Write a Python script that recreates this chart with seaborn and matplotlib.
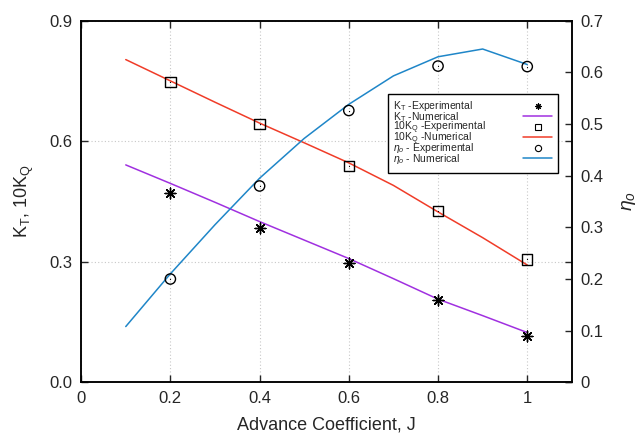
import numpy as np
import pandas as pd
import seaborn as sns
import matplotlib.pyplot as plt
from matplotlib.lines import Line2D
from matplotlib.transforms import Bbox

# experimental points
j_exp = [0.2, 0.4, 0.6, 0.8, 1.0]
kt_exp = [0.472, 0.383, 0.296, 0.205, 0.116]
kq10_exp = [0.748, 0.642, 0.539, 0.426, 0.306]
eta_exp = [0.200, 0.380, 0.526, 0.612, 0.611]

# numerical curves
j_num = [0.1, 0.2, 0.3, 0.4, 0.5, 0.6, 0.7, 0.8, 0.9, 1.0]
kt_num = [0.541, 0.495, 0.448, 0.400, 0.354, 0.308, 0.258, 0.207, 0.166, 0.124]
kq10_num = [0.803, 0.750, 0.697, 0.645, 0.596, 0.546, 0.490, 0.424, 0.360, 0.292]
eta_num = [0.108, 0.210, 0.305, 0.395, 0.472, 0.538, 0.593, 0.630, 0.645, 0.615]

x_ticks = [0, 0.2, 0.4, 0.6, 0.8, 1.0]
x_labels = ['0', '0.2', '0.4', '0.6', '0.8', '1']
y_ticks = [0.0, 0.3, 0.6, 0.9]
y2_ticks = [0, 0.1, 0.2, 0.3, 0.4, 0.5, 0.6, 0.7]
y2_labels = ['0', '0.1', '0.2', '0.3', '0.4', '0.5', '0.6', '0.7']

c_kt = '#a030e0'
c_kq = '#f03c28'
c_eta = '#1f86c8'

sns.set_style('ticks')
plt.rcParams['font.family'] = ['Liberation Sans', 'DejaVu Sans']
plt.rcParams['mathtext.fontset'] = 'custom'
plt.rcParams['mathtext.rm'] = 'Liberation Sans'
plt.rcParams['mathtext.it'] = 'Liberation Sans:italic'

exp_df = pd.DataFrame({'J': j_exp, 'KT': kt_exp, 'KQ': kq10_exp, 'eta': eta_exp})
num_df = pd.DataFrame({'J': j_num, 'KT': kt_num, 'KQ': kq10_num, 'eta': eta_num})

fig = plt.figure(figsize=(6.44, 4.38), dpi=100)
ax = fig.add_axes([0.126, 0.127, 0.762, 0.826])
ax2 = ax.twinx()

# numerical lines
sns.lineplot(data=num_df, x='J', y='KT', ax=ax, color=c_kt, lw=1.1)
sns.lineplot(data=num_df, x='J', y='KQ', ax=ax, color=c_kq, lw=1.1)
sns.lineplot(data=num_df, x='J', y='eta', ax=ax2, color=c_eta, lw=1.1)

# experimental markers
ast = (8, 2, 0)
sns.scatterplot(data=exp_df, x='J', y='KT', ax=ax, marker=ast, s=60,
                color='black', linewidth=1.0, zorder=5)
sns.scatterplot(data=exp_df, x='J', y='KQ', ax=ax, marker='s', s=55,
                facecolor='none', edgecolor='black', linewidth=1.0, zorder=5)
sns.scatterplot(data=exp_df, x='J', y='KQ', ax=ax, marker='.', s=3,
                color='black', linewidth=0, zorder=6)
sns.scatterplot(data=exp_df, x='J', y='eta', ax=ax2, marker='o', s=55,
                facecolor='none', edgecolor='black', linewidth=1.0, zorder=5)
sns.scatterplot(data=exp_df, x='J', y='eta', ax=ax2, marker='.', s=3,
                color='black', linewidth=0, zorder=6)

ax.set_xlim(0, 1.1)
ax.set_ylim(0, 0.9)
ax2.set_ylim(0, 0.7)

ax.set_xticks(x_ticks)
ax.set_xticklabels(x_labels)
ax.set_yticks(y_ticks)
ax.set_yticklabels(['0.0', '0.3', '0.6', '0.9'])
ax2.set_yticks(y2_ticks)
ax2.set_yticklabels(y2_labels)

ax.grid(True, color='#c8c8c8', linestyle=(0, (1, 2)), linewidth=0.8)
ax.tick_params(direction='in', top=True, right=True, length=5, width=1,
               labelsize=12, pad=6)
ax2.tick_params(direction='in', length=5, width=1, labelsize=12, pad=6)
for a in (ax, ax2):
    for s in a.spines.values():
        s.set_linewidth(1.1)
        s.set_color('black')

ax.set_xlabel('Advance Coefficient, J', fontsize=13, labelpad=8)
ax.set_ylabel(r'$\mathregular{K_T}$, $\mathregular{10K_Q}$', fontsize=13, labelpad=10)
ax2.set_ylabel(r'$\eta_o$', fontsize=14, labelpad=12)

handles = [
    Line2D([], [], ls='none', marker=ast, color='black', ms=4.5, mew=0.8),
    Line2D([], [], color=c_kt, lw=1.1),
    Line2D([], [], ls='none', marker='s', mfc='none', mec='black', ms=4.5, mew=0.8),
    Line2D([], [], color=c_kq, lw=1.1),
    Line2D([], [], ls='none', marker='o', mfc='none', mec='black', ms=4.5, mew=0.8),
    Line2D([], [], color=c_eta, lw=1.1),
]
labels = [r'$\mathregular{K_T}$ -Experimental', r'$\mathregular{K_T}$ -Numerical',
          r'$\mathregular{10K_Q}$ -Experimental', r'$\mathregular{10K_Q}$ -Numerical',
          r'$\eta_o$ - Experimental', r'$\eta_o$ - Numerical']
leg = ax2.legend(handles, labels, loc='upper right', bbox_to_anchor=(0.971, 0.798),
                 borderaxespad=0, markerfirst=False, fontsize=7.5, frameon=True,
                 fancybox=False, edgecolor='black', framealpha=1,
                 handlelength=2.8, handleheight=0.6, labelspacing=0,
                 borderpad=0.5, handletextpad=3.6)
leg.get_frame().set_linewidth(1.0)
leg.set_zorder(10)

# gnuplot-style key: same-size text boxes (left aligned), samples in one
# column on the right, rows on an even 10 px pitch
fig.canvas.draw()
renderer = fig.canvas.get_renderer()
cols = leg._legend_handle_box.get_children()
rows = [row for col in cols for row in col.get_children()]
text_boxes = [row.get_children()[0] for row in rows]
bbs = [tb.get_bbox(renderer) for tb in text_boxes]
y0 = min(b.y0 for b in bbs)
y1 = max(b.y1 for b in bbs)
x1 = max(b.x1 for b in bbs)
for tb, b in zip(text_boxes, bbs):
    fixed = Bbox.from_extents(b.x0, y0, x1, y1)
    tb.get_bbox = lambda renderer, fixed=fixed: fixed
row_pitch = 10.5
for col in cols:
    col.sep = (row_pitch - (y1 - y0)) * 72 / fig.dpi

fig.savefig('out.png', dpi=100)
